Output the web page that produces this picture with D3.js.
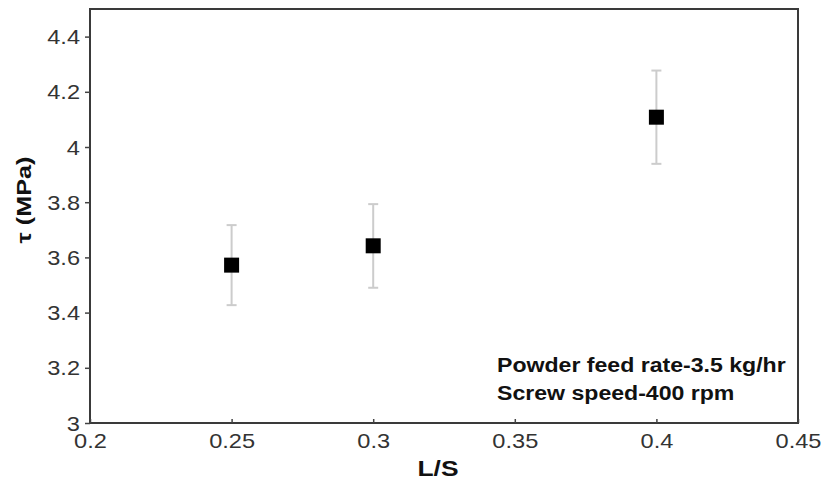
<!DOCTYPE html>
<html><head><meta charset="utf-8">
<script src="https://cdn.jsdelivr.net/npm/d3@7"></script>
<style>body{margin:0;background:#fff}svg{display:block}</style>
</head><body>
<script>
const categories = [0.25, 0.3, 0.4];
const tauMean = [3.572, 3.642, 4.108];
const tauLow = [3.427, 3.490, 3.939];
const tauHigh = [3.717, 3.793, 4.277];
const xTicks = [0.2, 0.25, 0.3, 0.35, 0.4, 0.45];
const yTicks = [3, 3.2, 3.4, 3.6, 3.8, 4, 4.2, 4.4];
const notes = ["Powder feed rate-3.5 kg/hr", "Screw speed-400 rpm"];

const W = 826, H = 481;
const m = {left: 90, right: 28, top: 9, bottom: 58};
const svg = d3.select("body").append("svg").attr("width", W).attr("height", H);
const x = d3.scaleLinear().domain([0.2, 0.45]).range([m.left, W - m.right]);
const y = d3.scaleLinear().domain([3, 4.5]).range([H - m.bottom, m.top]);
const font = "'Liberation Sans', Arial, sans-serif";
const sx = 1.18;

// frame
svg.append("rect").attr("x", x(0.2)).attr("y", y(4.5))
  .attr("width", x(0.45) - x(0.2)).attr("height", y(3) - y(4.5))
  .attr("fill", "none").attr("stroke", "#3a3a3a").attr("stroke-width", 2);

// y axis
const yAx = svg.append("g").attr("transform", `translate(${x(0.2)},0)`)
  .call(d3.axisLeft(y).tickValues(yTicks).tickSize(5).tickFormat(d3.format("")));
yAx.select(".domain").remove();
yAx.selectAll("line").attr("stroke", "#444").attr("stroke-width", 1.5);
yAx.selectAll("text").attr("font-family", font).attr("font-size", 20).attr("fill", "#333")
  .attr("x", 0).attr("dy", "0.35em")
  .attr("transform", function(d){ return `translate(-10,0) scale(${sx},1)`; });

// x axis (ticks point inward)
const xAx = svg.append("g").attr("transform", `translate(0,${y(3)})`)
  .call(d3.axisBottom(x).tickValues(xTicks).tickSize(-4).tickFormat(d3.format("")));
xAx.select(".domain").remove();
xAx.selectAll("line").attr("stroke", "#444").attr("stroke-width", 1.5);
xAx.selectAll("text").attr("font-family", font).attr("font-size", 20).attr("fill", "#333")
  .attr("y", 0).attr("dy", 0)
  .attr("transform", `translate(0,25) scale(${sx},1)`);

// error bars
const eb = svg.append("g").attr("stroke", "#cccccc").attr("stroke-width", 2);
categories.forEach((c, i) => {
  eb.append("line").attr("x1", x(c)).attr("x2", x(c)).attr("y1", y(tauLow[i])).attr("y2", y(tauHigh[i]));
  [tauLow[i], tauHigh[i]].forEach(v => {
    eb.append("line").attr("x1", x(c) - 5).attr("x2", x(c) + 5).attr("y1", y(v)).attr("y2", y(v));
  });
});

// markers
const s = 15;
svg.append("g").selectAll("rect").data(categories).join("rect")
  .attr("x", d => x(d) - s / 2).attr("y", (d, i) => y(tauMean[i]) - s / 2)
  .attr("width", s).attr("height", s).attr("fill", "#000");

// annotation
notes.forEach((t, i) => {
  svg.append("text").attr("transform", `translate(497,${372 + i * 28}) scale(1.1,1)`)
    .attr("font-family", font).attr("font-weight", "bold").attr("font-size", 21)
    .attr("fill", "#111").text(t);
});

// axis titles
svg.append("text").attr("transform", `translate(${(x(0.2) + x(0.45)) / 2 - 6},476) scale(1.2,1)`)
  .attr("text-anchor", "middle").attr("font-family", font).attr("font-weight", "bold")
  .attr("font-size", 22).attr("fill", "#111").text("L/S");
svg.append("text").attr("transform", `translate(31,200) rotate(-90) scale(1.2,1)`)
  .attr("text-anchor", "middle").attr("font-family", font).attr("font-weight", "bold")
  .attr("font-size", 21).attr("fill", "#111").text("τ (MPa)");
</script>
</body></html>
